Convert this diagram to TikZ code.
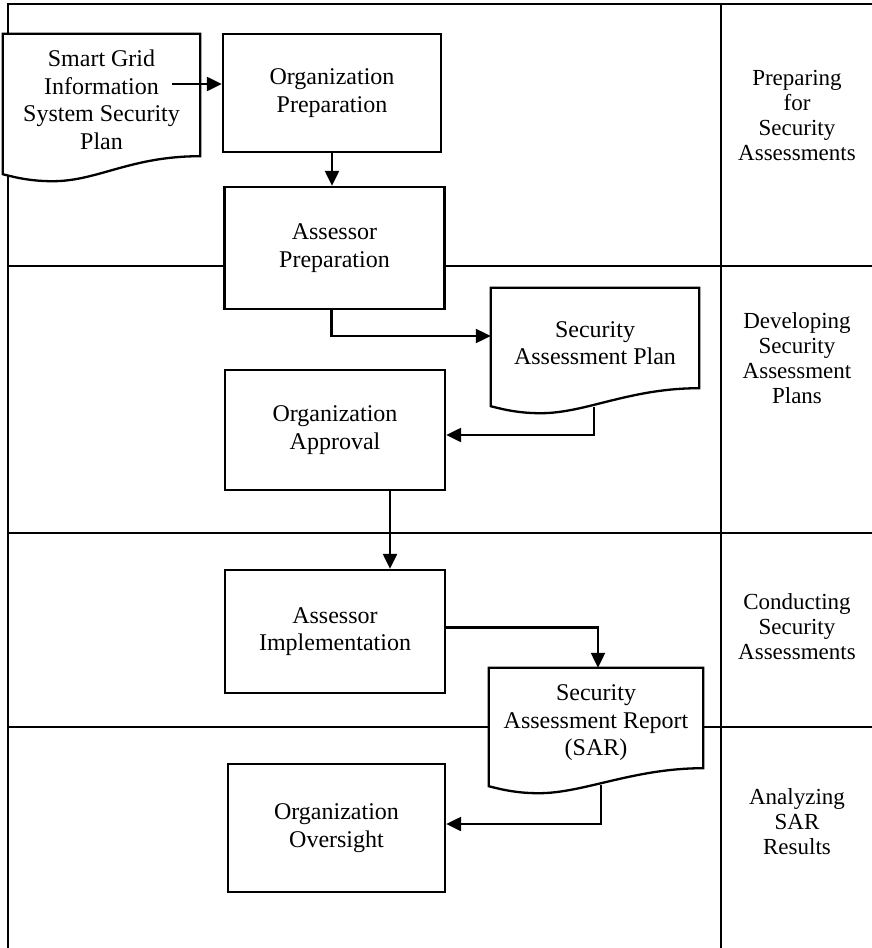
\documentclass[tikz,border=0pt]{standalone}
\usepackage{fontspec}
\setmainfont{Liberation Serif}
\usetikzlibrary{arrows.meta,calc,backgrounds}

\tikzset{
	box/.style={draw, fill=white, line width=2.3pt, minimum width=220pt, minimum height=120pt, align=center, font=\fontsize{24}{27.5}\selectfont},
	docbox/.style={inner sep=0pt, align=center, font=\fontsize{24}{27.5}\selectfont},
	lane/.style={line width=2pt},
	lanelabel/.style={align=center, font=\fontsize{23}{25}\selectfont},
	arr/.style={line width=2.2pt, -{Triangle[length=15pt,width=14pt]}},
}

% wavy document outline round a docbox node (the node reaches 10pt below the right corner)
\newcommand{\docshape}[1]{%
	\filldraw[fill=white, line width=2.3pt, line join=miter] ($(#1.south west)+(0,8)$) -- (#1.north west) -- (#1.north east) -- ($(#1.south east)+(0,-10)$)
		.. controls +(-70,0) and +(45,0) .. ($(#1.south west)+(50,15)$)
		.. controls +(-20,0) and +(15,4) .. ($(#1.south west)+(0,8)$) -- cycle;}

\begin{document}
\begin{tikzpicture}[x=1pt, y=-1pt]
	\useasboundingbox (0,0) rectangle (872,948);
	% swim lanes
	\begin{scope}[on background layer]
		\draw[lane] (8,948) -- (8,4) -- (872,4);
		\draw[lane] (721,4) -- (721,948);
		\foreach \y in {266,533,727}
			\draw[lane] (8,\y) -- (872,\y);
	\end{scope}
	\node[lanelabel] (l1) at (797,115) {Preparing\\for\\Security\\Assessments};
	\node[lanelabel] (l2) at (797,358) {Developing\\Security\\Assessment\\Plans};
	\node[lanelabel] (l3) at (797,627) {Conducting\\Security\\Assessments};
	\node[lanelabel] (l4) at (797,822) {Analyzing\\SAR\\Results};
	% steps
	\node[box, minimum width=218pt, minimum height=118pt] (op) at (332,93) {Organization\\Preparation};
	\node[box, minimum height=122pt] (ap) at (334.5,248) {Assessor\\Preparation};
	\node[box] (oa) at (335,430) {Organization\\Approval};
	\node[box, minimum height=123pt] (ai) at (335,631.5) {Assessor\\Implementation};
	\node[box, minimum width=217pt, minimum height=128pt] (oo) at (336.5,828) {Organization\\Oversight};
	% documents
	\node[docbox, minimum width=197pt, minimum height=132pt] (sgp) at (101.5,100) {Smart Grid\\Information\\System Security\\Plan};
	\node[docbox, minimum width=208pt, minimum height=110pt] (sap) at (595,343) {Security\\Assessment Plan};
	\node[docbox, minimum width=214pt, minimum height=110pt] (sar) at (596,723) {Security\\Assessment Report\\(SAR)};
	\begin{scope}[on background layer]
		\docshape{sgp}
		\docshape{sap}
		\docshape{sar}
	\end{scope}
	% flow
	\coordinate (sgpout) at (172,84);
	\draw[arr] (sgpout) -- (sgpout -| op.west);
	\draw[arr] (op.south) -- (op.south |- ap.north);
	\draw[arr] ($(ap.south)+(-3,0)$) |- ($(sap.west)+(0,-7)$);
	\draw[arr] ($(sap.south)+(-1,9)$) |- ($(oa.east)+(0,5)$);
	\draw[arr] ($(oa.south)+(55,0)$) -- ($(ai.north)+(55,0)$);
	\draw[arr] ($(ai.east)+(0,-4)$) -| ($(sar.north)+(2,0)$);
	\draw[arr] ($(sar.south)+(5,7)$) |- ($(oo.east)+(0,-4)$);
\end{tikzpicture}
\end{document}
